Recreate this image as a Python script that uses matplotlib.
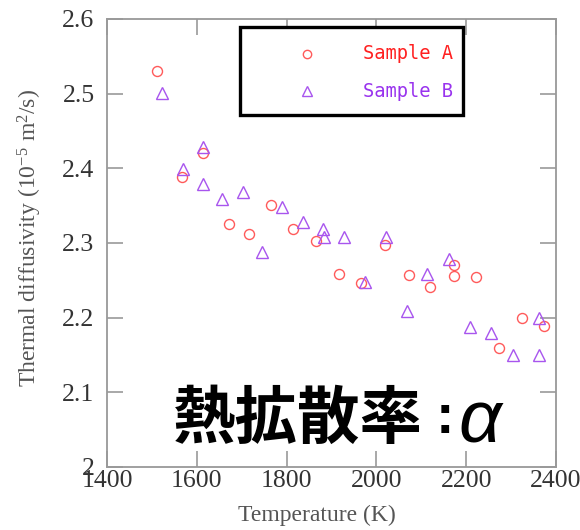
import matplotlib
matplotlib.use("Agg")
import matplotlib.pyplot as plt
from matplotlib.patches import Rectangle

plt.rcParams["mathtext.fontset"] = "custom"
plt.rcParams["mathtext.rm"] = "Liberation Serif"
plt.rcParams["mathtext.it"] = "Liberation Serif:italic"

# Sample A (circles)
temp_a = [1511, 1567, 1614, 1672, 1716, 1765, 1814, 1866, 1917, 1966,
          2019, 2073, 2119, 2173, 2173, 2222, 2273, 2324, 2373]
alpha_a = [2.530, 2.388, 2.421, 2.325, 2.312, 2.351, 2.319, 2.303, 2.258, 2.246,
           2.297, 2.257, 2.241, 2.271, 2.256, 2.254, 2.159, 2.200, 2.189]

# Sample B (triangles)
temp_b = [1522, 1569, 1614, 1614, 1656, 1703, 1745, 1790, 1837, 1881, 1883,
          1928, 1975, 2021, 2068, 2113, 2162, 2208, 2255, 2304, 2362, 2362]
alpha_b = [2.501, 2.399, 2.429, 2.379, 2.359, 2.368, 2.288, 2.348, 2.328, 2.319, 2.308,
           2.308, 2.248, 2.308, 2.209, 2.258, 2.279, 2.188, 2.179, 2.150, 2.200, 2.150]

x_ticks = [1400, 1600, 1800, 2000, 2200, 2400]
y_ticks = [2.0, 2.1, 2.2, 2.3, 2.4, 2.5, 2.6]
y_tick_labels = ["2", "2.1", "2.2", "2.3", "2.4", "2.5", "2.6"]

col_a = "#ff5a5a"
col_b = "#a855ee"

fig = plt.figure(figsize=(5.8, 5.3), dpi=100)
ax = fig.add_axes([0.1845, 0.1189, 0.7741, 0.8453])

ax.plot(temp_a, alpha_a, "o", ms=7.2, mfc="none", mec=col_a, mew=1.0)
ax.plot(temp_b, alpha_b, "^", ms=8.0, mfc="none", mec=col_b, mew=1.0)

ax.set_xlim(1400, 2400)
ax.set_ylim(2.0, 2.6)
ax.set_xticks(x_ticks)
ax.set_xticklabels([str(t) for t in x_ticks])
ax.set_yticks(y_ticks)
ax.set_yticklabels(y_tick_labels)

for s in ax.spines.values():
    s.set_color("#999999")
    s.set_linewidth(1.3)
ax.tick_params(direction="in", length=11.5, width=1.2, color="#999999",
               top=True, right=True, labelsize=18.5, labelcolor="#333333")
ax.tick_params(axis="x", pad=2)
ax.tick_params(axis="y", pad=9)
for lbl in ax.get_xticklabels() + ax.get_yticklabels():
    lbl.set_family("Liberation Serif")

ax.set_xlabel("Temperature (K)", family="Liberation Serif", fontsize=17, color="#555555")
ax.xaxis.set_label_coords(0.468, -0.109)
ax.xaxis.label.set_va("center")
ax.set_ylabel("Thermal diffusivity (10$^{-5}$ m$^{2}$/s)", family="Liberation Serif",
              fontsize=17, color="#555555")
ax.yaxis.set_label_coords(-0.171, 0.511)
ax.yaxis.label.set_va("center")

# legend box
ax.add_patch(Rectangle((0.296, 0.786), 0.497, 0.196, transform=ax.transAxes,
                       fill=True, fc="white", ec="black", lw=2.4, zorder=5, clip_on=False))
ax.plot([0.445], [0.922], "o", ms=6.0, mfc="none", mec=col_a, mew=1.0,
        transform=ax.transAxes, zorder=6, clip_on=False)
ax.plot([0.445], [0.839], "^", ms=6.8, mfc="none", mec=col_b, mew=1.0,
        transform=ax.transAxes, zorder=6, clip_on=False)
ax.text(0.570, 0.922, "Sample A", transform=ax.transAxes, family="DejaVu Sans Mono",
        fontsize=13.5, color="#ff2020", va="center", ha="left", zorder=6)
ax.text(0.570, 0.839, "Sample B", transform=ax.transAxes, family="DejaVu Sans Mono",
        fontsize=13.5, color="#9933ee", va="center", ha="left", zorder=6)

# title text inside the plot
ax.text(0.146, 0.106, "熱拡散率", transform=ax.transAxes,
        family=["Noto Sans CJK JP", "DejaVu Sans"], fontsize=45, fontweight="bold",
        color="black", va="center", ha="left", zorder=7)
ax.text(0.753, 0.106, ":", transform=ax.transAxes,
        family="Liberation Sans", fontsize=40, fontweight="bold",
        color="black", va="center", ha="center", zorder=7)
ax.text(0.782, 0.098, "α", transform=ax.transAxes, family="Liberation Sans",
        style="italic", fontsize=54, color="black", va="center", ha="left", zorder=7)

fig.savefig("out.png", dpi=100)
